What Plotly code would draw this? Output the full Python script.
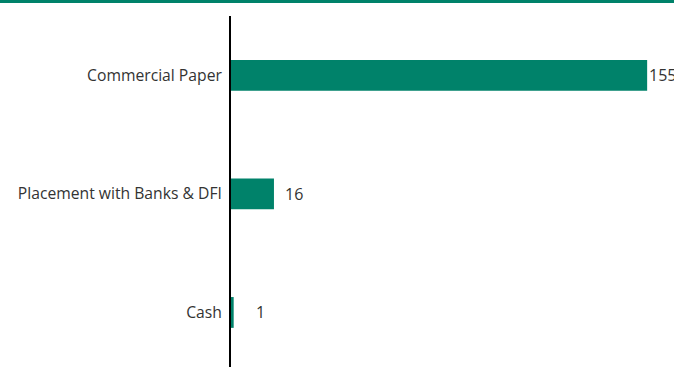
import plotly.graph_objects as go

# Portfolio composition (PKR mn)
categories = ["Cash", "Placement with Banks & DFI", "Commercial Paper"]
values = [1, 16, 155]
label_gap = [20, 9, 0]  # pixel offset of each value label from its bar end

GREEN = "#00826A"
TEXT = "#333333"

fig = go.Figure()
fig.add_trace(go.Bar(
    x=values,
    y=categories,
    orientation="h",
    marker=dict(color=GREEN, line=dict(width=0)),
    width=0.26,
    hoverinfo="skip",
))

for cat, val, gap in zip(categories, values, label_gap):
    fig.add_annotation(
        x=val, y=cat, text=str(val), showarrow=False,
        xanchor="left", yanchor="middle", xshift=gap,
        font=dict(family="Open Sans", size=16, color=TEXT),
    )

# Thin brand rule along the top edge
fig.add_shape(
    type="rect", xref="paper", yref="paper",
    x0=-231 / 443, x1=1,
    ysizemode="pixel", yanchor=1, y0=13, y1=16,
    fillcolor=GREEN, line=dict(width=0), layer="above",
)

fig.update_layout(
    width=674, height=367,
    margin=dict(l=231, r=0, t=16, b=0),
    paper_bgcolor="white", plot_bgcolor="white",
    showlegend=False,
    xaxis=dict(range=[0, 165], visible=False, fixedrange=True),
    yaxis=dict(
        range=[-0.46, 2.5],
        showline=True, linecolor="black", linewidth=2,
        showgrid=False, zeroline=False, ticks="",
        ticklabelstandoff=4,
        tickfont=dict(family="Open Sans", size=15.7, color=TEXT),
        fixedrange=True,
    ),
)

fig.write_html("out.html", config={"displayModeBar": False})
